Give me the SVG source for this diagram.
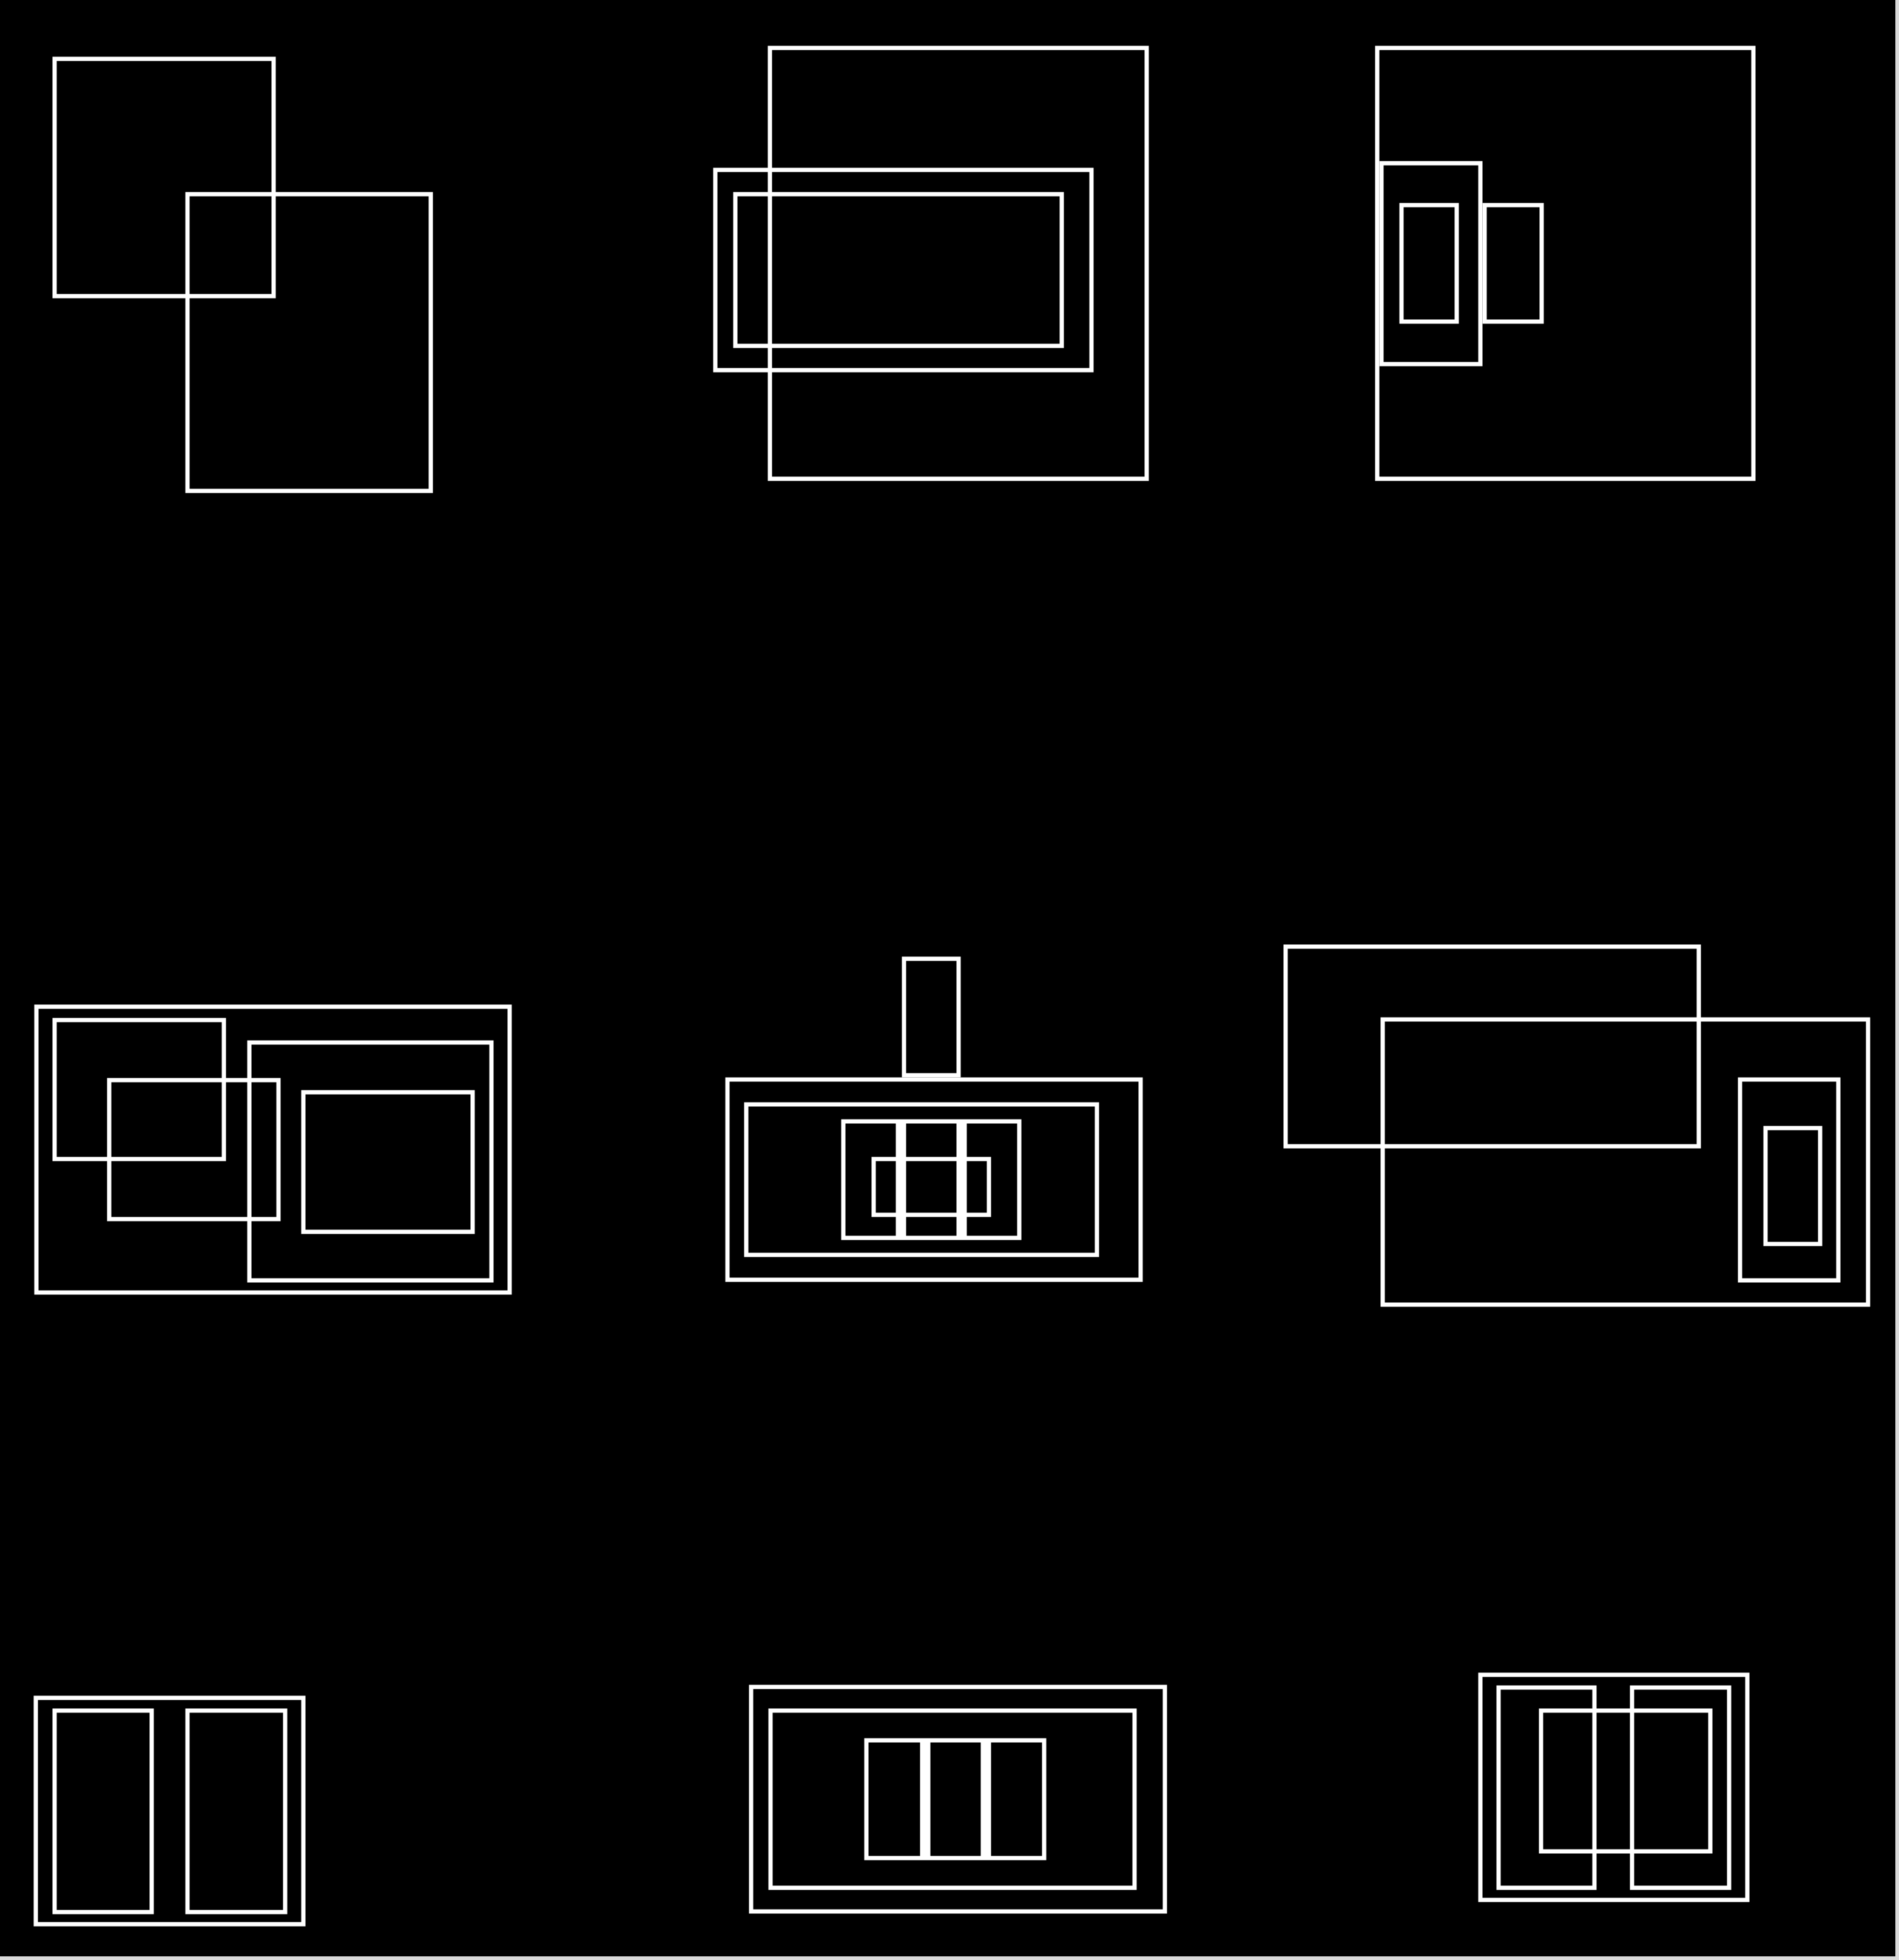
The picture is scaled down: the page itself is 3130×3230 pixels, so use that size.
<svg xmlns="http://www.w3.org/2000/svg" width="3130" height="3230" viewBox="0 0 3130 3230">
  <defs>
    <style>
      .r { fill: none; stroke: #ffffff; stroke-width: 7; }
      .bar { stroke: #ffffff; stroke-width: 17; }
      .edge { stroke: #d9d9d9; stroke-width: 6; }
    </style>
  </defs>
  <rect x="0" y="0" width="3130" height="3230" fill="#000000"/>
  <g id="frame">
    <line class="edge" x1="3127" y1="0" x2="3127" y2="3230"/>
    <line class="edge" x1="0" y1="3227" x2="3130" y2="3227"/>
  </g>
  <g id="panel1">
    <rect class="r" x="90" y="97" width="361" height="391"/>
    <rect class="r" x="309" y="320" width="401" height="489"/>
  </g>
  <g id="panel2">
    <rect class="r" x="1269" y="79" width="621" height="710"/>
    <rect class="r" x="1179" y="280" width="620" height="330"/>
    <rect class="r" x="1212" y="320" width="538" height="250"/>
  </g>
  <g id="panel3">
    <rect class="r" x="2270" y="79" width="620" height="710"/>
    <rect class="r" x="2277" y="269" width="163" height="331"/>
    <rect class="r" x="2310" y="338" width="91" height="192"/>
    <rect class="r" x="2447" y="338" width="94" height="192"/>
  </g>
  <g id="panel4">
    <rect class="r" x="60" y="1659" width="780" height="471"/>
    <rect class="r" x="90" y="1681" width="279" height="229"/>
    <rect class="r" x="180" y="1780" width="279" height="229"/>
    <rect class="r" x="411" y="1718" width="399" height="392"/>
    <rect class="r" x="500" y="1800" width="279" height="230"/>
  </g>
  <g id="panel5">
    <rect class="r" x="1490" y="1580" width="90" height="192"/>
    <rect class="r" x="1199" y="1779" width="681" height="330"/>
    <rect class="r" x="1230" y="1820" width="578" height="248"/>
    <rect class="r" x="1390" y="1848" width="290" height="192"/>
    <rect class="r" x="1440" y="1910" width="190" height="92"/>
    <line class="bar" x1="1485" y1="1845" x2="1485" y2="2043"/>
    <line class="bar" x1="1585" y1="1845" x2="1585" y2="2043"/>
  </g>
  <g id="panel6">
    <rect class="r" x="2119" y="1560" width="681" height="329"/>
    <rect class="r" x="2279" y="1680" width="800" height="470"/>
    <rect class="r" x="2868" y="1779" width="162" height="331"/>
    <rect class="r" x="2910" y="1859" width="90" height="191"/>
  </g>
  <g id="panel7">
    <rect class="r" x="59" y="2798" width="441" height="373"/>
    <rect class="r" x="90" y="2819" width="160" height="332"/>
    <rect class="r" x="309" y="2819" width="161" height="332"/>
  </g>
  <g id="panel8">
    <rect class="r" x="1238" y="2780" width="682" height="370"/>
    <rect class="r" x="1270" y="2819" width="600" height="292"/>
    <rect class="r" x="1428" y="2868" width="293" height="194"/>
    <line class="bar" x1="1525" y1="2865" x2="1525" y2="3065"/>
    <line class="bar" x1="1625" y1="2865" x2="1625" y2="3065"/>
  </g>
  <g id="panel9">
    <rect class="r" x="2440" y="2760" width="440" height="371"/>
    <rect class="r" x="2470" y="2781" width="158" height="330"/>
    <rect class="r" x="2690" y="2781" width="160" height="330"/>
    <rect class="r" x="2540" y="2819" width="279" height="232"/>
  </g>
</svg>
